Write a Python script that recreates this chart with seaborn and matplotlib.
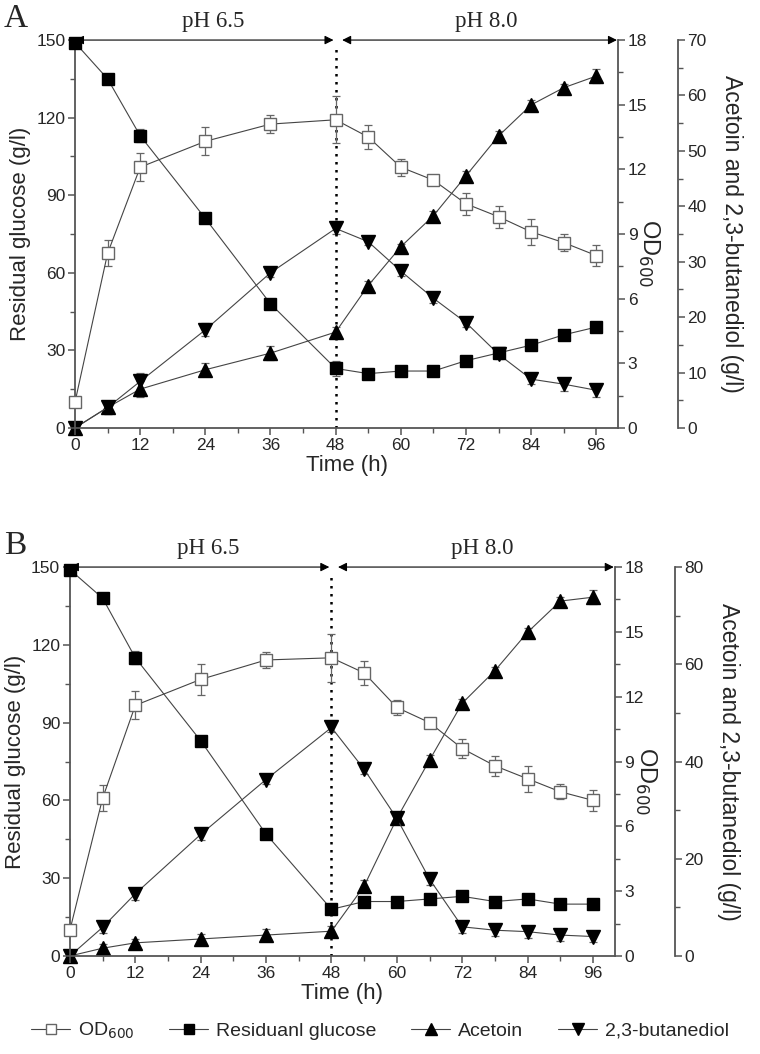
import matplotlib
matplotlib.use("Agg")
import matplotlib.pyplot as plt
from matplotlib.lines import Line2D
from matplotlib.ticker import MultipleLocator
import seaborn as sns

# ── Data ─────────────────────────────────────────────────────────────
hours = [0, 6, 12, 24, 36, 48, 54, 60, 66, 72, 78, 84, 90, 96]

# Panel A
od_a      = [1.2, 8.1, 12.1, 13.3, 14.1, 14.3, 13.5, 12.1, 11.5, 10.4, 9.8, 9.1, 8.6, 8.0]
od_a_err  = [0.2, 0.6, 0.65, 0.65, 0.4, 1.1, 0.55, 0.4, 0.15, 0.5, 0.5, 0.6, 0.4, 0.5]
glc_a     = [149, 135, 113, 81, 48, 23, 21, 22, 22, 26, 29, 32, 36, 39]
glc_a_err = [1, 0, 2.5, 0, 0, 3, 0, 0, 0, 0, 0, 0, 0, 0]
act_a     = [0, 3.7, 7.0, 10.5, 13.5, 17.3, 25.7, 32.7, 38.3, 45.5, 52.7, 58.3, 61.4, 63.5]
act_a_err = [0, 1.2, 1.5, 1.2, 1.2, 1.0, 0.8, 0.5, 0.8, 0.8, 0.8, 0.8, 0.6, 1.2]
bdo_a     = [0, 3.7, 8.4, 17.7, 28.0, 36.0, 33.6, 28.3, 23.4, 19.0, 13.3, 8.8, 7.9, 6.8]
bdo_a_err = [0, 1.2, 1.5, 1.2, 0.8, 1.0, 0.5, 0.8, 0.8, 0.8, 0.8, 0.8, 1.2, 1.2]

# Panel B
od_b      = [1.2, 7.3, 11.6, 12.8, 13.7, 13.8, 13.1, 11.5, 10.8, 9.6, 8.8, 8.2, 7.6, 7.2]
od_b_err  = [0.2, 0.6, 0.65, 0.7, 0.35, 1.1, 0.55, 0.35, 0.15, 0.45, 0.45, 0.6, 0.35, 0.5]
glc_b     = [149, 138, 115, 83, 47, 18, 21, 21, 22, 23, 21, 22, 20, 20]
glc_b_err = [1, 0, 2.5, 0, 0, 0, 0, 0, 0, 0, 0, 0, 0, 0]
act_b     = [0, 1.6, 2.7, 3.5, 4.3, 5.1, 14.4, 28.3, 40.3, 52.0, 58.7, 66.6, 73.0, 73.8]
act_b_err = [0, 0.8, 0.8, 1.0, 1.2, 1.0, 1.2, 1.0, 1.0, 0.8, 0.8, 0.8, 0.8, 1.5]
bdo_b     = [0, 5.9, 12.8, 25.0, 36.3, 47.0, 38.4, 28.3, 15.8, 6.0, 5.3, 5.0, 4.3, 4.0]
bdo_b_err = [0, 1.2, 1.2, 1.2, 1.0, 1.0, 1.0, 1.0, 1.2, 1.2, 1.2, 1.2, 1.2, 1.2]

panels = [
    dict(tag="A", rect=[0.0987, 0.594, 0.7145, 0.368], prod_max=70, prod_major=10, prod_minor=5,
         od=od_a, od_err=od_a_err, glc=glc_a, glc_err=glc_a_err,
         act=act_a, act_err=act_a_err, bdo=bdo_a, bdo_err=bdo_a_err),
    dict(tag="B", rect=[0.092, 0.093, 0.717, 0.369], prod_max=80, prod_major=20, prod_minor=10,
         od=od_b, od_err=od_b_err, glc=glc_b, glc_err=glc_b_err,
         act=act_b, act_err=act_b_err, bdo=bdo_b, bdo_err=bdo_b_err),
]

sns.set_style("ticks")
plt.rcParams["font.family"] = ["Liberation Sans", "DejaVu Sans"]

LINE_C = "#444444"
SPINE_C = "#555555"
SERIF = ["Liberation Serif", "DejaVu Serif"]


def style_axis(ax, side):
    for s in ["top", "left", "right", "bottom"]:
        ax.spines[s].set_visible(s in side)
        ax.spines[s].set_color(SPINE_C)
        ax.spines[s].set_linewidth(1.3)
    ax.tick_params(which="major", direction="out", length=5, width=1.1, color=SPINE_C,
                   labelsize=12.5, pad=2)
    ax.tick_params(which="minor", direction="out", length=3.5, width=1.0, color=SPINE_C)


def draw_series(ax, y, yerr, marker, face, edge, ms):
    ax.errorbar(hours, y, yerr=yerr, fmt="none", ecolor="#666666", elinewidth=0.9,
                capsize=3, capthick=0.9, zorder=2, clip_on=False)
    sns.lineplot(x=hours, y=y, ax=ax, color=LINE_C, linewidth=0.8, marker=marker,
                 markersize=ms, markerfacecolor=face, markeredgecolor=edge,
                 markeredgewidth=1.0, zorder=3, clip_on=False)


fig = plt.figure(figsize=(7.6, 10.54), dpi=100)

for p in panels:
    ax = fig.add_axes(p["rect"])
    ax2 = ax.twinx()
    ax3 = ax.twinx()
    ax3.spines["right"].set_position(("outward", 43))

    style_axis(ax, ["left", "bottom"])
    style_axis(ax2, ["right"])
    style_axis(ax3, ["right"])

    ax.set_xlim(0, 100)
    ax.set_ylim(0, 150)
    ax2.set_ylim(0, 18)
    ax3.set_ylim(0, p["prod_max"])

    ax.xaxis.set_minor_locator(MultipleLocator(6))
    ax.set_xticks([0, 12, 24, 36, 48, 60, 72, 84, 96])
    ax.yaxis.set_major_locator(MultipleLocator(30))
    ax.yaxis.set_minor_locator(MultipleLocator(15))
    ax2.yaxis.set_major_locator(MultipleLocator(3))
    ax2.yaxis.set_minor_locator(MultipleLocator(1.5))
    ax3.yaxis.set_major_locator(MultipleLocator(p["prod_major"]))
    ax3.yaxis.set_minor_locator(MultipleLocator(p["prod_minor"]))

    draw_series(ax, p["glc"], p["glc_err"], "s", "black", "black", 8.5)
    draw_series(ax2, p["od"], p["od_err"], "s", "white", "#666666", 8.5)
    draw_series(ax3, p["act"], p["act_err"], "^", "black", "black", 10.5)
    draw_series(ax3, p["bdo"], p["bdo_err"], "v", "black", "black", 10.5)

    # pH shift marker
    ax.axvline(48, ymin=0, ymax=0.985, color="black", linestyle=(0, (1, 2.2)),
               linewidth=1.8, zorder=1)

    # phase arrows along the top
    arrow_kw = dict(arrowstyle="<|-|>", color="black", lw=0.8, mutation_scale=13,
                    shrinkA=0, shrinkB=0)
    ax.annotate("", xy=(0, 150), xytext=(47.6, 150), arrowprops=arrow_kw,
                annotation_clip=False)
    ax.annotate("", xy=(49.2, 150), xytext=(99.8, 150), arrowprops=arrow_kw,
                annotation_clip=False)
    ax.text(25.4, 153, "pH 6.5", ha="center", va="bottom", fontsize=16.5, family=SERIF)
    ax.text(75.7, 153, "pH 8.0", ha="center", va="bottom", fontsize=16.5, family=SERIF)

    ax.set_xlabel("Time (h)", fontsize=16, labelpad=2)
    ax.set_ylabel("Residual glucose (g/l)", fontsize=16, labelpad=4)
    ax2.set_ylabel("OD$_{600}$", fontsize=17, rotation=270, labelpad=2)
    ax2.yaxis.set_label_coords(1.08, 0.45)
    ax3.set_ylabel("Acetoin and 2,3-butanediol (g/l)", fontsize=16.5, rotation=270,
                   labelpad=26)

    ax.set_zorder(ax3.get_zorder() + 1)
    ax.patch.set_visible(False)
    ax2.set_zorder(ax.get_zorder() + 1)
    ax2.patch.set_visible(False)

    x0, y0, w, h = p["rect"]
    fig.text(0.005, y0 + h + 0.006, p["tag"], fontsize=24, family=SERIF,
             ha="left", va="bottom")

handles = [
    Line2D([], [], color=LINE_C, lw=0.8, marker="s", ms=7, mfc="white", mec="#666666"),
    Line2D([], [], color=LINE_C, lw=0.8, marker="s", ms=7, mfc="black", mec="black"),
    Line2D([], [], color=LINE_C, lw=0.8, marker="^", ms=8, mfc="black", mec="black"),
    Line2D([], [], color=LINE_C, lw=0.8, marker="v", ms=8, mfc="black", mec="black"),
]
labels = ["OD$_{600}$", "Residuanl glucose", "Acetoin", "2,3-butanediol"]
fig.legend(handles, labels, loc="center", bbox_to_anchor=(0.5, 0.022), ncol=4,
           frameon=False, fontsize=14, handlelength=2.0, handletextpad=0.4,
           columnspacing=1.8)

fig.savefig("out.png", dpi=100)
